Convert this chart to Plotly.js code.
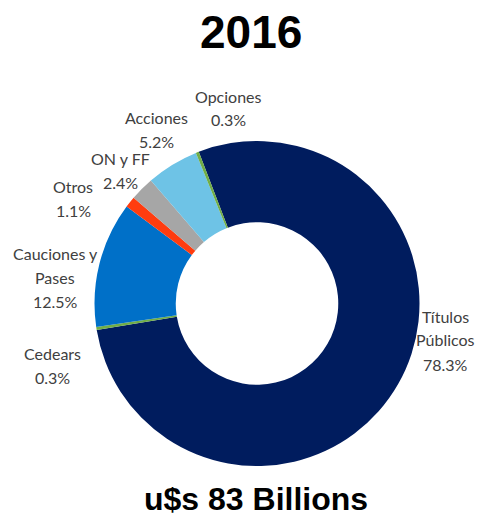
<!DOCTYPE html>
<html>
<head>
<meta charset="utf-8">
<script src="https://cdn.plot.ly/plotly-3.0.1.min.js"></script>
<style>html,body{margin:0;padding:0;background:#fff;}#chart{width:479px;height:522px;}</style>
</head>
<body>
<div id="chart"></div>
<script>
const categories = ["Títulos Públicos", "Cedears", "Cauciones y Pases", "Otros", "ON y FF", "Acciones", "Opciones"];
const labelLines = [["Títulos", "Públicos"], ["Cedears"], ["Cauciones y", "Pases"], ["Otros"], ["ON y FF"], ["Acciones"], ["Opciones"]];
const shares = [78.3, 0.3, 12.5, 1.1, 2.4, 5.2, 0.3];
const sliceColors = ["#001c5e", "#70ad47", "#0070c8", "#ff3c0f", "#a6a6a6", "#6ec3e6", "#70ad47"];
const chartTitle = "2016";
const totalLabel = "u$s 83 Billions";

// label block centres in pixels (layout only)
const labelCenters = [[445, 340], [52, 365], [55, 277], [73, 198], [121, 170], [156, 129], [228, 108]];

const W = 479, H = 522, LINE = 24;
const labelFont = {family: "Lato, 'Open Sans', sans-serif", size: 16, color: "#404040"};

const trace = {
  type: "pie",
  labels: categories,
  values: shares,
  sort: false,
  direction: "clockwise",
  rotation: -21,
  hole: 0.5,
  marker: {colors: sliceColors, line: {width: 0}},
  textinfo: "none",
  hoverinfo: "label+value",
  domain: {x: [0.1973, 0.8758], y: [0.1073, 0.7299]},
  showlegend: false
};

const annotations = [
  {text: "<b>" + chartTitle + "</b>", x: 0.525, y: 0.938, xref: "paper", yref: "paper",
   showarrow: false, xanchor: "center", yanchor: "middle",
   font: {family: "'Liberation Sans', Arial, sans-serif", size: 46, color: "#000"}},
  {text: "<b>" + totalLabel + "</b>", x: 0.534, y: 0.045, xref: "paper", yref: "paper",
   showarrow: false, xanchor: "center", yanchor: "middle",
   font: {family: "'Liberation Sans', Arial, sans-serif", size: 32, color: "#000"}}
];

categories.forEach(function (cat, i) {
  const lines = labelLines[i].concat([shares[i].toFixed(1) + "%"]);
  const cx = labelCenters[i][0], cy = labelCenters[i][1];
  const top = cy - (lines.length - 1) * LINE / 2;
  lines.forEach(function (ln, j) {
    annotations.push({
      text: ln, x: cx / W, y: 1 - (top + j * LINE) / H, xref: "paper", yref: "paper",
      showarrow: false, xanchor: "center", yanchor: "middle", font: labelFont
    });
  });
});

const layout = {
  width: W,
  height: H,
  margin: {l: 0, r: 0, t: 0, b: 0},
  paper_bgcolor: "#ffffff",
  showlegend: false,
  annotations: annotations
};

Plotly.newPlot("chart", [trace], layout, {displayModeBar: false, staticPlot: true});
</script>
</body>
</html>
